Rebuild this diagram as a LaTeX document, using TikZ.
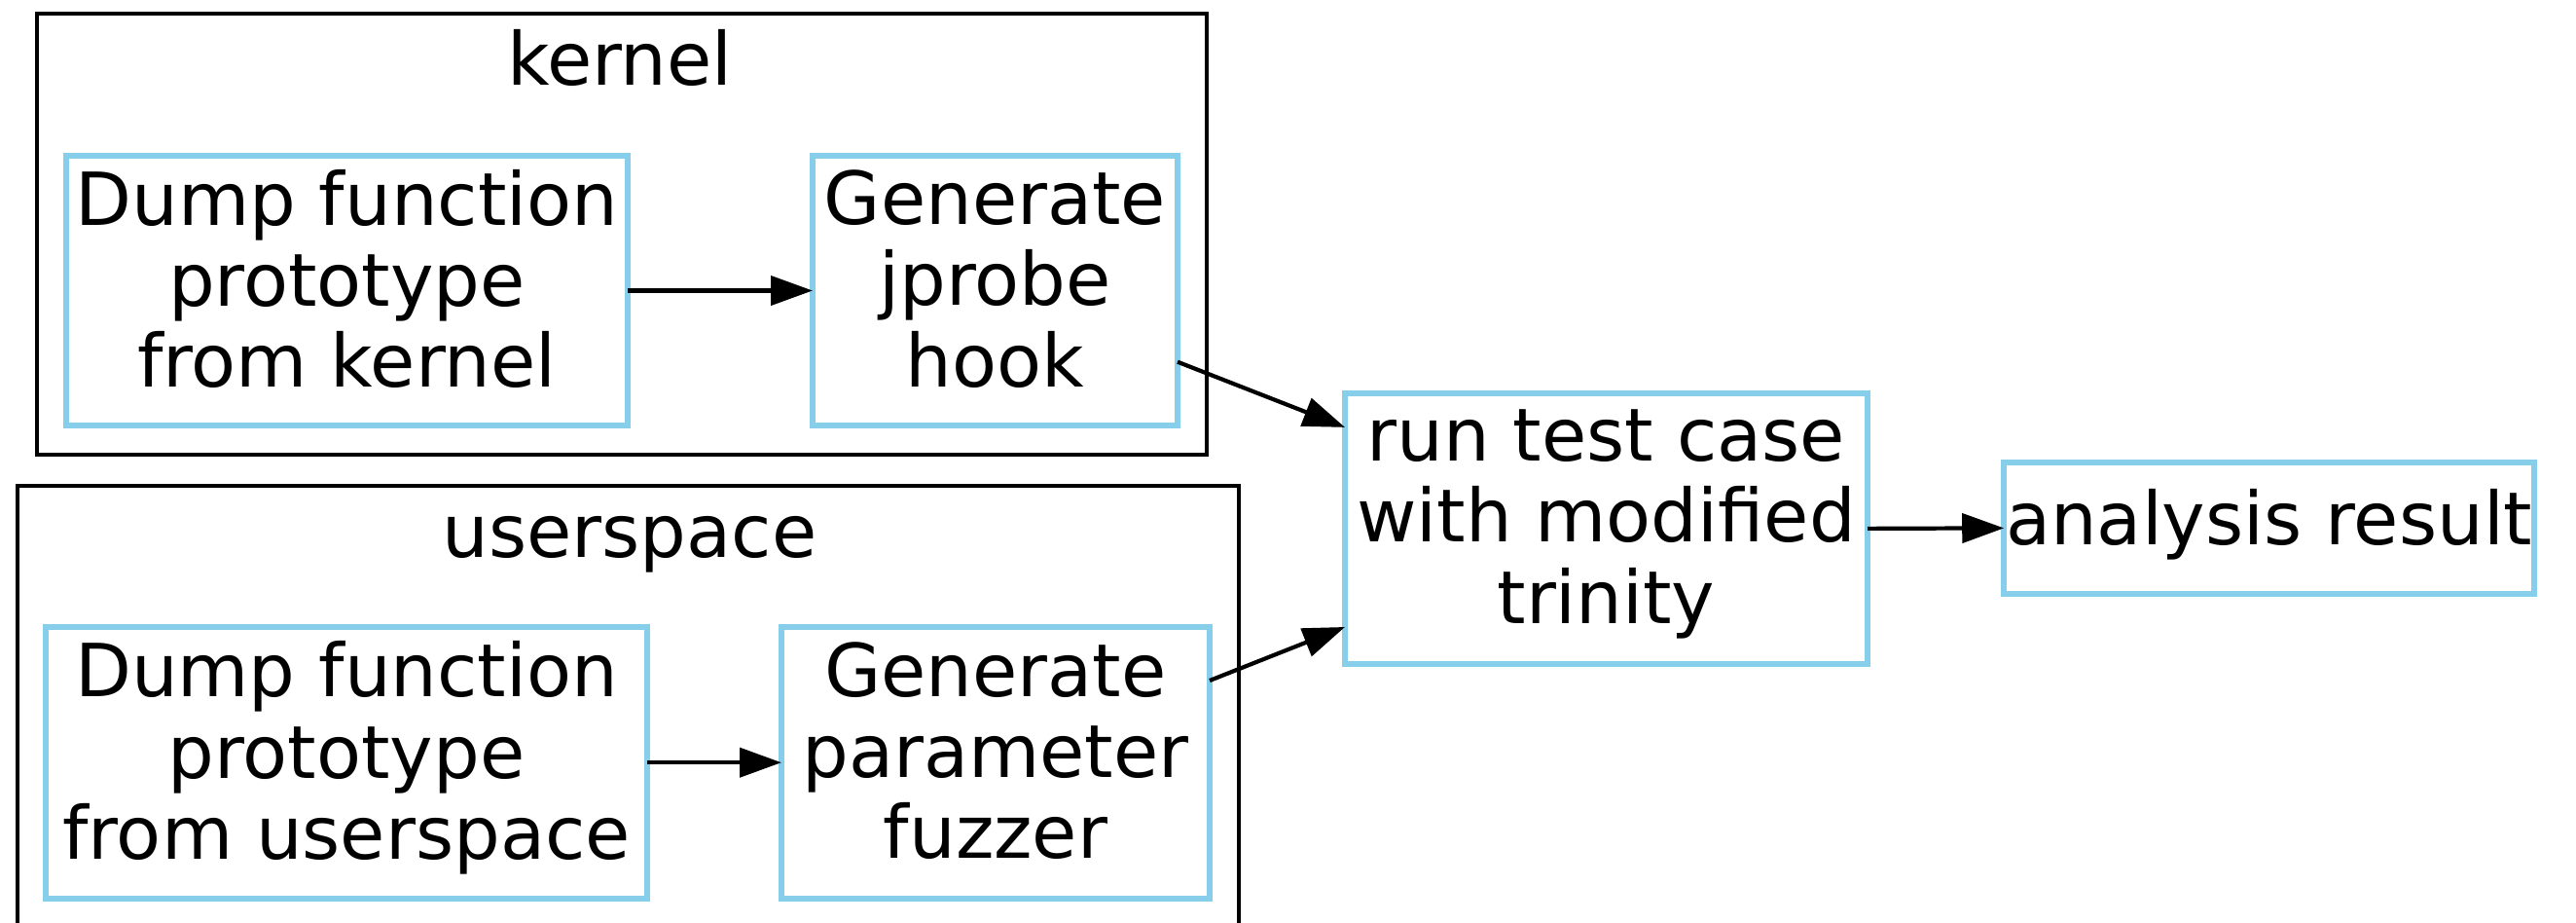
\documentclass[tikz,border=0pt]{standalone}
\usepackage{fontspec}
\setmainfont{DejaVu Sans}
\usetikzlibrary{arrows.meta}
\definecolor{skyblue}{HTML}{87CEEB}
\begin{document}
\begin{tikzpicture}[
  box/.style={draw=skyblue, line width=1.7pt, rectangle, align=center, inner sep=0pt, outer sep=0pt,
    font=\fontsize{21.4pt}{23.7pt}\selectfont,
    execute at begin node=\strut, execute at end node=\strut},
  cluster/.style={draw=black, line width=1pt},
  clabel/.style={anchor=base, inner sep=0pt, font=\fontsize{21.4pt}{23.7pt}\selectfont},
  edge/.style={draw=black, line width=1.2pt, -{Triangle[length=0.43cm,width=0.30cm]}}
]
\useasboundingbox (0,0) rectangle (26.47,-9.48);
% clusters
\draw[cluster] (0.38,-0.14) rectangle (12.40,-4.67);
\node[clabel] (kl) at (6.37,-0.88) {kernel};
\draw[cluster] (0.18,-9.7) -- (0.18,-4.99) -- (12.73,-4.99) -- (12.73,-9.7);
\node[clabel] (ul) at (6.47,-5.73) {userspace};
% nodes
\node[box, minimum width=5.77cm, minimum height=2.77cm] (A1) at (3.564,-2.985) {Dump function\\prototype\\from kernel};
\node[box, minimum width=3.75cm, minimum height=2.77cm] (A2) at (10.225,-2.985) {Generate\\jprobe\\hook};
\node[box, minimum width=6.18cm, minimum height=2.79cm] (B1) at (3.56,-7.832) {Dump function\\prototype\\from userspace};
\node[box, minimum width=4.40cm, minimum height=2.79cm] (B2) at (10.23,-7.832) {Generate\\parameter\\fuzzer};
\node[box, minimum width=5.37cm, minimum height=2.78cm] (C) at (16.505,-5.429) {run test case\\with modified\\trinity};
\node[box, minimum width=5.45cm, minimum height=1.35cm] (D) at (23.317,-5.424) {analysis result};
% edges
\draw[edge] (A1.east) -- (A2.west);
\draw[edge] (B1.east) -- (B2.west);
\draw[edge] ([yshift=-0.732cm]A2.east) -- ([yshift=1.04cm]C.west);
\draw[edge] ([yshift=0.842cm]B2.east) -- ([yshift=-1.011cm]C.west);
\draw[edge] (C.east) -- (D.west);
\end{tikzpicture}
\end{document}
